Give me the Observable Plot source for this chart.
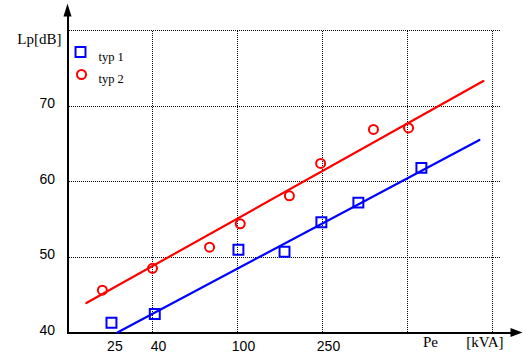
<!DOCTYPE html>
<html><head><meta charset="utf-8">
<script src="https://cdn.jsdelivr.net/npm/d3@7"></script>
<script src="https://cdn.jsdelivr.net/npm/@observablehq/plot@0.6"></script>
<style>html,body{margin:0;padding:0;background:#fff} svg{display:block}</style>
</head><body><div id="chart"></div>
<script>
// Series: measured points
const typ1X = [25.7, 41, 101, 166, 247, 368, 726];
const typ1Y = [41.3, 42.45, 50.95, 50.7, 54.6, 57.2, 61.8];
const typ2X = [23.3, 40, 74, 103, 175, 245, 433, 632];
const typ2Y = [45.6, 48.5, 51.3, 54.4, 58.1, 62.4, 66.9, 67.1];
// Fitted lines (end points)
const fit1X = [27.4, 1357];
const fit1Y = [40.0, 65.5];
const fit2X = [19.6, 1416];
const fit2Y = [43.9, 73.3];
// Ticks and grid
const xTicks = [25, 40, 100, 250];
const xGrid = [40, 100, 250, 625, 1562.5];
const yTicks = [40, 50, 60, 70];
const yGrid = [50, 60, 70, 80];
const seriesNames = ["typ 1", "typ 2"];
const yTitle = "Lp[dB]";
const xTitle = "Pe";
const xUnit = "[kVA]";

const W = 523, H = 362;
const xDomain = [16, 1562.5], xRange = [67, 492];
const yDomain = [40, 80], yRange = [332, 30];
const xs = d3.scaleLog(xDomain, xRange);
const ys = d3.scaleLinear(yDomain, yRange);
const x0 = xDomain[0], y0 = yDomain[0];

const pts1 = typ1X.map((v, i) => ({x: v, y: typ1Y[i]}));
const pts2 = typ2X.map((v, i) => ({x: v, y: typ2Y[i]}));
const line1 = fit1X.map((v, i) => ({x: v, y: fit1Y[i]}));
const line2 = fit2X.map((v, i) => ({x: v, y: fit2Y[i]}));

const arrowUp = {draw(c) { c.moveTo(0, -6.5); c.lineTo(4, 6.5); c.lineTo(-4, 6.5); c.closePath(); }};
const arrowRight = {draw(c) { c.moveTo(6, 0); c.lineTo(-6, -4.5); c.lineTo(-6, 4.5); c.closePath(); }};

const serif = "Liberation Serif, Times New Roman, serif";
const sans = "Liberation Sans, Arial, sans-serif";
const dots = {strokeDasharray: "1,1", stroke: "black", strokeWidth: 1, shapeRendering: "crispEdges"};

const chart = Plot.plot({
  width: W, height: H,
  marginLeft: 67, marginRight: 31, marginTop: 30, marginBottom: 30,
  style: {background: "white"},
  x: {type: "log", domain: xDomain, range: xRange, axis: null},
  y: {domain: yDomain, range: yRange, axis: null},
  marks: [
    Plot.ruleY(yGrid, {y: d => d, x1: x0, x2: xs.invert(500), ...dots}),
    Plot.ruleX(xGrid, {x: d => d, y1: y0, y2: yDomain[1], ...dots}),
    Plot.ruleX([x0], {y1: y0, y2: ys.invert(8), stroke: "black", strokeWidth: 2, shapeRendering: "crispEdges"}),
    Plot.ruleY([y0], {x1: x0, x2: xs.invert(511), stroke: "black", strokeWidth: 2, shapeRendering: "crispEdges"}),
    Plot.dot([0], {x: x0, y: ys.invert(9.5), symbol: arrowUp, fill: "black", stroke: "none"}),
    Plot.dot([0], {x: xs.invert(516), y: y0, symbol: arrowRight, fill: "black", stroke: "none"}),
    Plot.text(yTicks, {x: x0, y: d => d, text: d => String(d), textAnchor: "end", dx: -12.5, dy: -2, fontFamily: sans, fontSize: 14, fill: "black"}),
    Plot.text(xTicks, {x: d => d, y: y0, text: d => String(d), textAnchor: "middle", dx: 6, dy: 14, fontFamily: sans, fontSize: 14, fill: "black"}),
    Plot.text([yTitle], {frameAnchor: "top-left", text: d => d, textAnchor: "end", dx: -6, dy: 3, fontFamily: serif, fontSize: 15, fill: "black"}),
    Plot.text([xTitle], {frameAnchor: "bottom-right", text: d => d, textAnchor: "middle", dx: -62, dy: 14, fontFamily: serif, fontSize: 15, fill: "black"}),
    Plot.text([xUnit], {frameAnchor: "bottom-right", text: d => d, textAnchor: "end", dx: 11, dy: 14, fontFamily: serif, fontSize: 15, fill: "black"}),
    Plot.line(line2, {x: "x", y: "y", stroke: "#ff0000", strokeWidth: 2.2}),
    Plot.line(line1, {x: "x", y: "y", stroke: "#0000ff", strokeWidth: 2.2}),
    Plot.dot(pts1, {x: "x", y: "y", symbol: "square", r: 5.6, stroke: "#0000ff", strokeWidth: 2, fill: "none"}),
    Plot.dot(pts2, {x: "x", y: "y", symbol: "circle", r: 4.5, stroke: "#ff0000", strokeWidth: 2, fill: "none"}),
    // legend
    Plot.dot([seriesNames[0]], {frameAnchor: "top-left", dx: 13, dy: 21.5, symbol: "square", r: 5.6, stroke: "#0000ff", strokeWidth: 2, fill: "none"}),
    Plot.dot([seriesNames[1]], {frameAnchor: "top-left", dx: 14, dy: 44, symbol: "circle", r: 4.5, stroke: "#ff0000", strokeWidth: 2, fill: "none"}),
    Plot.text([seriesNames[0]], {frameAnchor: "top-left", text: d => d, textAnchor: "start", dx: 31, dy: 22, fontFamily: serif, fontSize: 12.5, fill: "black"}),
    Plot.text([seriesNames[1]], {frameAnchor: "top-left", text: d => d, textAnchor: "start", dx: 31, dy: 44, fontFamily: serif, fontSize: 12.5, fill: "black"})
  ]
});
document.getElementById("chart").appendChild(chart);
</script>
</body></html>
